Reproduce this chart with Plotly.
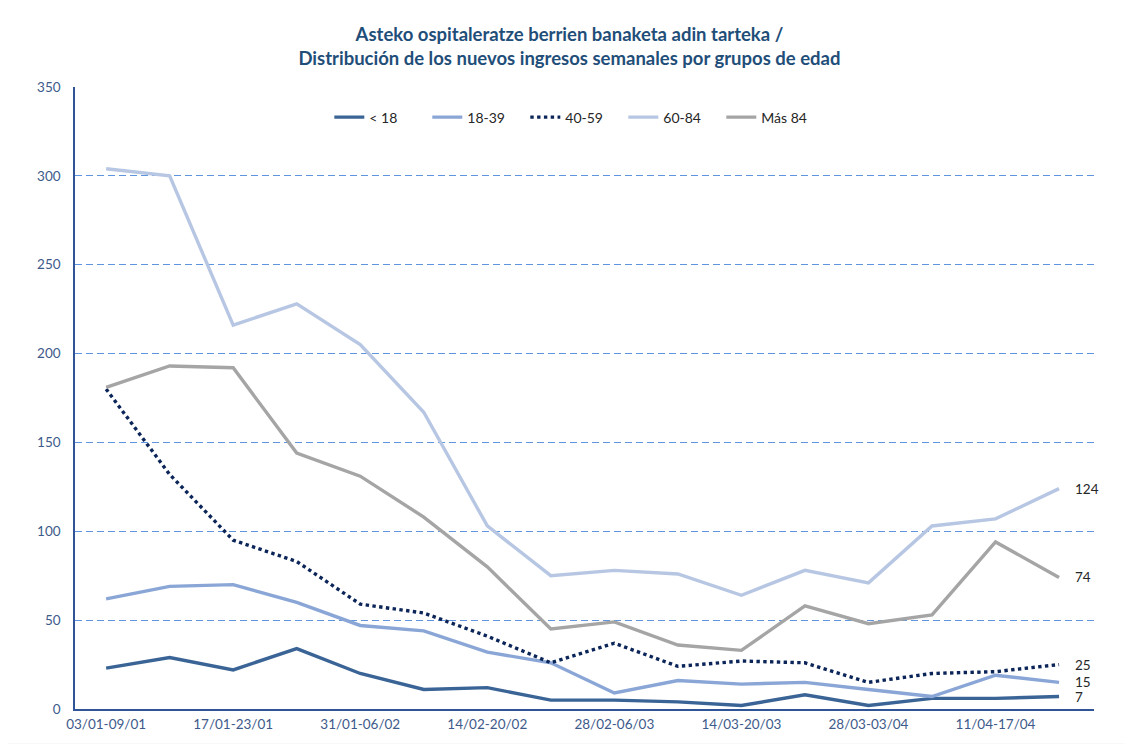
import plotly.graph_objects as go

weeks = ["03/01-09/01", "10/01-16/01", "17/01-23/01", "24/01-30/01", "31/01-06/02",
         "07/02-13/02", "14/02-20/02", "21/02-27/02", "28/02-06/03", "07/03-13/03",
         "14/03-20/03", "21/03-27/03", "28/03-03/04", "04/04-10/04", "11/04-17/04",
         "18/04-24/04"]

menor_18 = [23, 29, 22, 34, 20, 11, 12, 5, 5, 4, 2, 8, 2, 6, 6, 7]
edad_18_39 = [62, 69, 70, 60, 47, 44, 32, 26, 9, 16, 14, 15, 11, 7, 19, 15]
edad_40_59 = [180, 132, 95, 83, 59, 54, 41, 26, 37, 24, 27, 26, 15, 20, 21, 25]
edad_60_84 = [304, 300, 216, 228, 205, 167, 103, 75, 78, 76, 64, 78, 71, 103, 107, 124]
mas_84 = [181, 193, 192, 144, 131, 108, 80, 45, 49, 36, 33, 58, 48, 53, 94, 74]

series_names = ["< 18", "18-39", "40-59", "60-84", "Más 84"]
y_ticks = [0, 50, 100, 150, 200, 250, 300, 350]
x_ticks = weeks[::2]

series = [menor_18, edad_18_39, edad_40_59, edad_60_84, mas_84]
colors = ["#3A6496", "#8AA6D6", "#0B2559", "#B7C7E3", "#A5A5A5"]
dashes = ["solid", "solid", "dot", "solid", "solid"]

fig = go.Figure()
for name, vals, c, d in zip(series_names, series, colors, dashes):
    fig.add_trace(go.Scatter(x=weeks, y=vals, mode="lines", name=name,
                             line=dict(color=c, width=3.4, dash=d)))

# end labels
for vals in series:
    fig.add_annotation(x=weeks[-1], y=vals[-1], text=str(vals[-1]), showarrow=False,
                       xanchor="left", xshift=14, yshift=0,
                       font=dict(family="Lato", size=13.5, color="#262626"))

# page body has an 8px margin: size the figure so the plot area lands where the reference has it
fig.update_layout(
    width=1124, height=736,
    margin=dict(l=67, r=38, t=79, b=33),
    paper_bgcolor="white", plot_bgcolor="white",
    title=dict(text="Asteko ospitaleratze berrien banaketa adin tarteka /<br>Distribución de los nuevos ingresos semanales por grupos de edad",
               x=0.4995, xanchor="center", y=0.955, yanchor="middle",
               font=dict(family="Lato", size=18.5, color="#1F4E79", weight="bold")),
    font=dict(family="Lato", size=13, color="#44546A"),
    showlegend=True,
    legend=dict(orientation="h", x=0.49, xanchor="center", y=0.951, yanchor="middle",
                font=dict(family="Lato", size=14, color="#262626"),
                entrywidth=53, entrywidthmode="pixels", bgcolor="rgba(0,0,0,0)"),
    shapes=[dict(type="rect", xref="paper", yref="paper", x0=-0.0702, x1=1.0415,
                 y0=-0.0565, y1=1.129, line=dict(color="#ECECEC", width=1), layer="below")],
)

fig.update_xaxes(type="category", range=[-0.49, 15.55], tickmode="array", tickvals=x_ticks,
                 ticktext=x_ticks, showgrid=False, showline=True, linecolor="#2F5597",
                 linewidth=1.5, ticks="", ticklabelstandoff=2,
                 tickfont=dict(family="Lato", size=13.5, color="#3D5A8A"))
fig.update_yaxes(range=[0, 350], tickmode="array", tickvals=y_ticks, showgrid=True,
                 gridcolor="#5F95DE", griddash="7px,4px", gridwidth=1, showline=True,
                 linecolor="#2F5597", linewidth=1.5, zeroline=False, ticks="",
                 ticklabelstandoff=10,
                 tickfont=dict(family="Lato", size=13.5, color="#3D5A8A"))

fig.write_html("out.html")
